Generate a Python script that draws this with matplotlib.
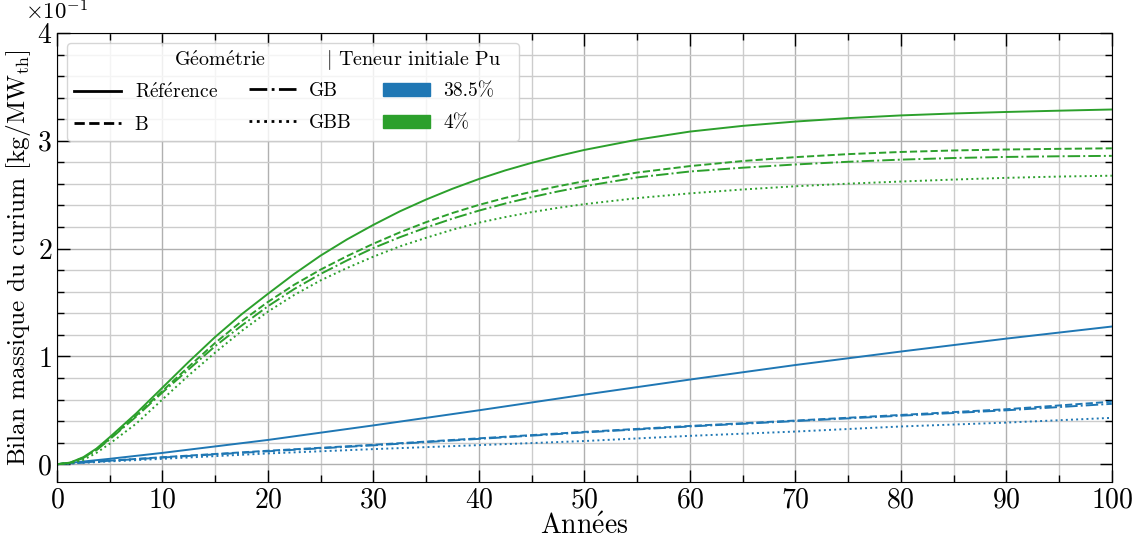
import matplotlib
matplotlib.use("Agg")
import matplotlib.pyplot as plt
from matplotlib.lines import Line2D
from matplotlib.patches import Patch
from matplotlib.ticker import MultipleLocator

plt.rcParams['font.family'] = ['cmr10', 'DejaVu Serif']
plt.rcParams['mathtext.fontset'] = 'cm'
plt.rcParams['axes.formatter.use_mathtext'] = True
plt.rcParams['axes.unicode_minus'] = False

# années
x_green = [0, 1.25, 2.5, 3.75, 5, 7.5, 10, 12.5, 15, 17.5, 20, 22.5, 25, 27.5, 30, 32.5, 35,
           37.5, 40, 42.5, 45, 47.5, 50, 55, 60, 65, 70, 75, 80, 85, 90, 95, 100]
# teneur 4% (kg/MWth)
g_ref = [0, 0.0015, 0.0065, 0.0145, 0.025, 0.047, 0.071, 0.095, 0.118, 0.139, 0.158, 0.1765,
         0.1935, 0.2085, 0.222, 0.2345, 0.2455, 0.2555, 0.2645, 0.2725, 0.2795, 0.2858,
         0.2915, 0.301, 0.3085, 0.3138, 0.3178, 0.321, 0.3235, 0.3253, 0.3267, 0.3279, 0.329]
g_b = [0, 0.0013, 0.006, 0.0135, 0.0235, 0.045, 0.068, 0.0905, 0.1125, 0.1325, 0.1505, 0.1665,
       0.1805, 0.193, 0.2045, 0.215, 0.2245, 0.233, 0.2405, 0.247, 0.2527, 0.2578,
       0.2625, 0.2705, 0.2765, 0.2812, 0.2848, 0.2876, 0.2896, 0.291, 0.2919, 0.2925, 0.293]
g_gb = [0, 0.0012, 0.0058, 0.013, 0.023, 0.044, 0.0665, 0.088, 0.1095, 0.1285, 0.1465, 0.1625,
        0.1765, 0.189, 0.2005, 0.2105, 0.2195, 0.2278, 0.2352, 0.2418, 0.2477, 0.253,
        0.2578, 0.266, 0.2715, 0.275, 0.278, 0.2805, 0.2825, 0.284, 0.285, 0.2856, 0.286]
g_gbb = [0, 0.0008, 0.004, 0.0105, 0.019, 0.0375, 0.060, 0.0825, 0.1035, 0.1235, 0.1415, 0.157,
         0.1705, 0.182, 0.1925, 0.202, 0.210, 0.2175, 0.224, 0.2292, 0.2338, 0.2378,
         0.2412, 0.2468, 0.2512, 0.2548, 0.2578, 0.2602, 0.2622, 0.264, 0.2656, 0.2668, 0.2676]

# teneur 38.5%
x_blue = [0, 5, 10, 20, 30, 40, 50, 60, 70, 80, 90, 100]
b_ref = [0, 0.005, 0.0105, 0.0225, 0.036, 0.050, 0.0645, 0.0785, 0.092, 0.1045, 0.1165, 0.1277]
b_b = [0, 0.0033, 0.0065, 0.0125, 0.018, 0.024, 0.030, 0.0355, 0.0405, 0.0457, 0.051, 0.058]
b_gb = [0, 0.0032, 0.0062, 0.012, 0.0175, 0.0235, 0.0295, 0.035, 0.040, 0.045, 0.050, 0.056]
b_gbb = [0, 0.0026, 0.005, 0.010, 0.014, 0.0177, 0.0215, 0.0263, 0.0303, 0.035, 0.0386, 0.043]

blue = '#1f77b4'
green = '#2ca02c'

fig = plt.figure(figsize=(11.38, 5.4), dpi=100)
ax = fig.add_axes([0.050, 0.107, 0.927, 0.832])

lw = 1.4
ax.plot(x_blue, b_ref, color=blue, ls='-', lw=lw)
ax.plot(x_blue, b_b, color=blue, ls='--', lw=lw)
ax.plot(x_blue, b_gb, color=blue, ls='-.', lw=lw)
ax.plot(x_blue, b_gbb, color=blue, ls=':', lw=lw)
ax.plot(x_green, g_ref, color=green, ls='-', lw=lw)
ax.plot(x_green, g_b, color=green, ls='--', lw=lw)
ax.plot(x_green, g_gb, color=green, ls='-.', lw=lw)
ax.plot(x_green, g_gbb, color=green, ls=':', lw=lw)

ax.set_xlim(0, 100)
ax.set_ylim(-0.0167, 0.4)
ax.xaxis.set_major_locator(MultipleLocator(10))
ax.xaxis.set_minor_locator(MultipleLocator(5))
ax.yaxis.set_major_locator(MultipleLocator(0.1))
ax.yaxis.set_minor_locator(MultipleLocator(0.02))
ax.ticklabel_format(axis='y', style='sci', scilimits=(0, 0))
ax.yaxis.OFFSETTEXTPAD = 9.5
off = ax.yaxis.get_offset_text()
off.set_fontsize(16.5)
off.set_x(-0.03)

ax.tick_params(which='both', direction='in', top=True, right=True, labelsize=20)
ax.tick_params(which='major', length=9, width=1)
ax.tick_params(which='minor', length=5, width=1)
ax.grid(which='major', color='#b0b0b0', lw=1)
ax.grid(which='minor', color='#cccccc', lw=1)
ax.set_axisbelow(True)

ax.set_xlabel(r'Ann$\mathrm{\acute{e}}$es', fontsize=20, labelpad=0)
ax.set_ylabel(r'Bilan massique du curium $[\mathrm{kg}/\mathrm{MW_{th}}]$', fontsize=18.2,
              labelpad=3)

blank = Line2D([], [], color='none')
handles = [blank,
           Line2D([], [], color='k', ls='-', lw=2),
           Line2D([], [], color='k', ls='--', lw=2),
           blank,
           Line2D([], [], color='k', ls='-.', lw=2),
           Line2D([], [], color='k', ls=':', lw=2),
           blank,
           Patch(color=blue),
           Patch(color=green)]
labels = [' ', r'R$\mathrm{\acute{e}}$f$\mathrm{\acute{e}}$rence', 'B',
          ' ', 'GB', 'GBB',
          'Teneurs', '38.5%', '4%']
leg = ax.legend(handles, labels, ncol=3, loc='upper left', fontsize=14,
                handlelength=2.4, columnspacing=1.6, handletextpad=0.7,
                labelspacing=0.72, fancybox=True, framealpha=0.8)
# espace réservé pour l'en-tête, texte invisible
leg.get_texts()[6].set_alpha(0)

ax.text(0.155, 0.94, r'G$\mathrm{\acute{e}}$om$\mathrm{\acute{e}}$trie', transform=ax.transAxes,
        ha='center', va='center', fontsize=14.5, zorder=10)
ax.text(0.255, 0.94, r'$|$ Teneur initiale Pu', transform=ax.transAxes,
        ha='left', va='center', fontsize=14.5, zorder=10)

fig.savefig('out.png', dpi=100)
